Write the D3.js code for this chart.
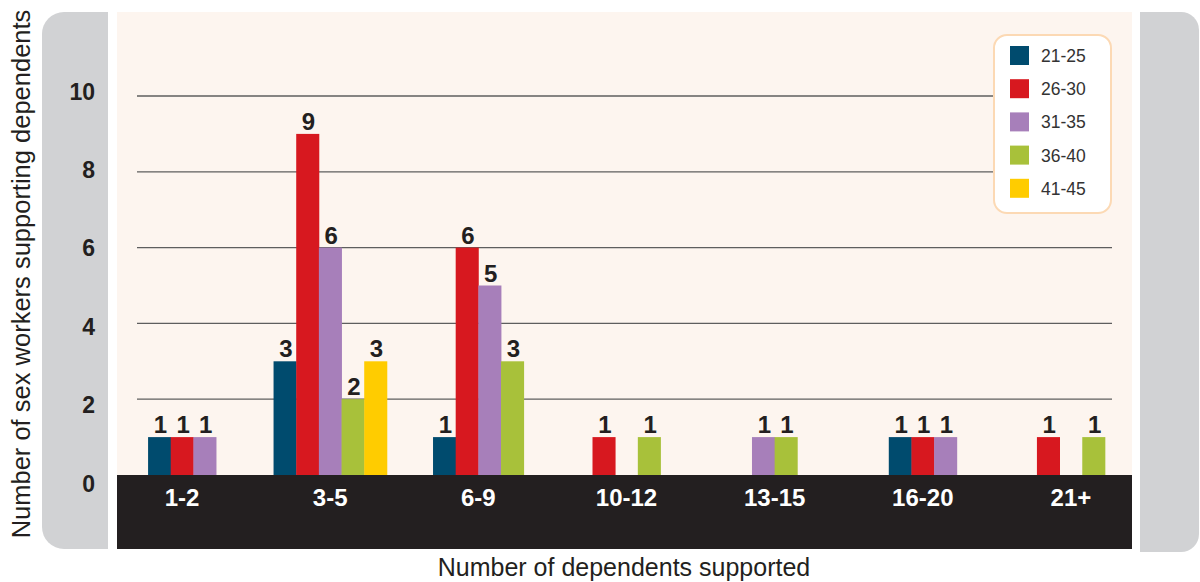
<!DOCTYPE html>
<html>
<head>
<meta charset="utf-8">
<script src="https://cdn.jsdelivr.net/npm/d3@7"></script>
<style>
  html, body { margin: 0; padding: 0; background: #ffffff; }
  svg { display: block; }
</style>
</head>
<body>
<svg id="chart" width="1200" height="582"></svg>
<script>
// ---- Data ----
const categories = ["1-2", "3-5", "6-9", "10-12", "13-15", "16-20", "21+"];
const seriesNames = ["21-25", "26-30", "31-35", "36-40", "41-45"];
const age21_25 = [1, 3, 1, null, null, 1, null];
const age26_30 = [1, 9, 6, 1, null, 1, 1];
const age31_35 = [1, 6, 5, null, 1, 1, null];
const age36_40 = [null, 2, 3, 1, 1, null, 1];
const age41_45 = [null, 3, null, null, null, null, null];
const yTicks = [0, 2, 4, 6, 8, 10];
const yTitle = "Number of sex workers supporting dependents";
const xTitle = "Number of dependents supported";

const seriesValues = [age21_25, age26_30, age31_35, age36_40, age41_45];
const colors = ["#004b6e", "#d7181f", "#a77fba", "#a8c13a", "#ffcc00"];

const boldFont = '"Liberation Sans", Arial, Helvetica, sans-serif';
const regular = '"Liberation Sans", Arial, Helvetica, sans-serif';

const svg = d3.select("#chart");

// ---- Frame panels ----
function roundedPath(x0, y0, x1, y1, rl, rr) {
  return `M${x0 + rl},${y0} H${x1 - rr} ` +
    (rr ? `A${rr},${rr} 0 0 1 ${x1},${y0 + rr} ` : "") +
    `V${y1 - rr} ` +
    (rr ? `A${rr},${rr} 0 0 1 ${x1 - rr},${y1} ` : "") +
    `H${x0 + rl} ` +
    (rl ? `A${rl},${rl} 0 0 1 ${x0},${y1 - rl} ` : "") +
    `V${y0 + rl} ` +
    (rl ? `A${rl},${rl} 0 0 1 ${x0 + rl},${y0} ` : "") + "Z";
}
svg.append("path").attr("d", roundedPath(42, 12, 108, 549, 22, 0)).attr("fill", "#d1d2d4");
svg.append("path").attr("d", roundedPath(1140, 12, 1199, 552, 0, 18)).attr("fill", "#d1d2d4");

const plotLeft = 117, plotRight = 1132, plotTop = 12, baseY = 475, bandBottom = 549;
svg.append("rect").attr("x", plotLeft).attr("y", plotTop)
  .attr("width", plotRight - plotLeft).attr("height", baseY - plotTop).attr("fill", "#fdf5ef");
svg.append("rect").attr("x", plotLeft).attr("y", baseY)
  .attr("width", plotRight - plotLeft).attr("height", bandBottom - baseY).attr("fill", "#231f20");

// ---- Scales ----
const y = d3.scaleLinear().domain([0, 10]).range([baseY, 96]);
const yLabel = d3.scaleLinear().domain([0, 10]).range([491, 99]); // label baselines
const x = d3.scaleBand().domain(categories).range([108, 1145]).padding(0);
const bw = x.step() * 0.153;

// ---- Gridlines ----
svg.append("g").selectAll("line")
  .data(yTicks.filter(t => t > 0))
  .join("line")
  .attr("x1", 137).attr("x2", 1112)
  .attr("y1", d => y(d)).attr("y2", d => y(d))
  .attr("stroke", "#5e5e5e").attr("stroke-width", 1.3);

// ---- Y tick labels ----
const yAxis = d3.axisLeft(yLabel).tickValues(yTicks).tickSize(0).tickPadding(0);
const yg = svg.append("g").attr("transform", "translate(95,0)").call(yAxis);
yg.select(".domain").remove();
yg.selectAll("text")
  .attr("dy", 0)
  .attr("font-family", boldFont).attr("font-weight", "bold")
  .attr("font-size", 23).attr("fill", "#231f20");

// ---- Bars ----
const bars = [];
categories.forEach((c, ci) => {
  const present = seriesValues.map((arr, si) => arr[ci] != null ? si : -1).filter(si => si >= 0);
  const first = d3.min(present), last = d3.max(present);
  const n = last - first + 1;
  const center = x(c) + x.bandwidth() / 2;
  const start = center - n * bw / 2;
  present.forEach(si => {
    bars.push({ cat: c, si, value: seriesValues[si][ci], x0: start + (si - first) * bw });
  });
});

svg.append("g").selectAll("rect")
  .data(bars)
  .join("rect")
  .attr("x", d => d.x0)
  .attr("y", d => y(d.value))
  .attr("width", bw + 0.4)
  .attr("height", d => y(0) - y(d.value))
  .attr("fill", d => colors[d.si]);

svg.append("g").selectAll("text")
  .data(bars)
  .join("text")
  .attr("x", d => d.x0 + bw / 2 + 1)
  .attr("y", d => y(d.value) - 4)
  .attr("text-anchor", "middle")
  .attr("font-family", boldFont).attr("font-weight", "bold")
  .attr("font-size", 24).attr("fill", "#231f20")
  .text(d => d.value);

// ---- Category labels ----
const xAxis = d3.axisBottom(x).tickSize(0).tickPadding(0);
const xg = svg.append("g").attr("transform", `translate(0,${baseY})`).call(xAxis);
xg.select(".domain").remove();
xg.selectAll("text")
  .attr("y", 31).attr("dy", 0)
  .attr("font-family", boldFont).attr("font-weight", "bold")
  .attr("font-size", 24).attr("fill", "#ffffff");

// ---- Axis titles ----
svg.append("text")
  .attr("transform", "translate(30,274) rotate(-90)")
  .attr("text-anchor", "middle")
  .attr("font-family", regular).attr("font-size", 25.5).attr("fill", "#231f20")
  .text(yTitle);

svg.append("text")
  .attr("x", 624).attr("y", 576)
  .attr("text-anchor", "middle")
  .attr("font-family", regular).attr("font-size", 25).attr("fill", "#231f20")
  .text(xTitle);

// ---- Legend ----
const lg = svg.append("g");
lg.append("rect").attr("x", 994).attr("y", 35).attr("width", 117).attr("height", 178)
  .attr("rx", 13).attr("fill", "#ffffff").attr("stroke", "#fcd9b4").attr("stroke-width", 2);
const items = lg.selectAll("g.item").data(seriesNames).join("g")
  .attr("class", "item")
  .attr("transform", (d, i) => `translate(1010,${46 + i * 33.2})`);
items.append("rect").attr("width", 19).attr("height", 19).attr("fill", (d, i) => colors[i]);
items.append("text").attr("x", 31).attr("y", 16)
  .attr("font-family", regular).attr("font-size", 17.5).attr("fill", "#333333")
  .text(d => d);
</script>
</body>
</html>
